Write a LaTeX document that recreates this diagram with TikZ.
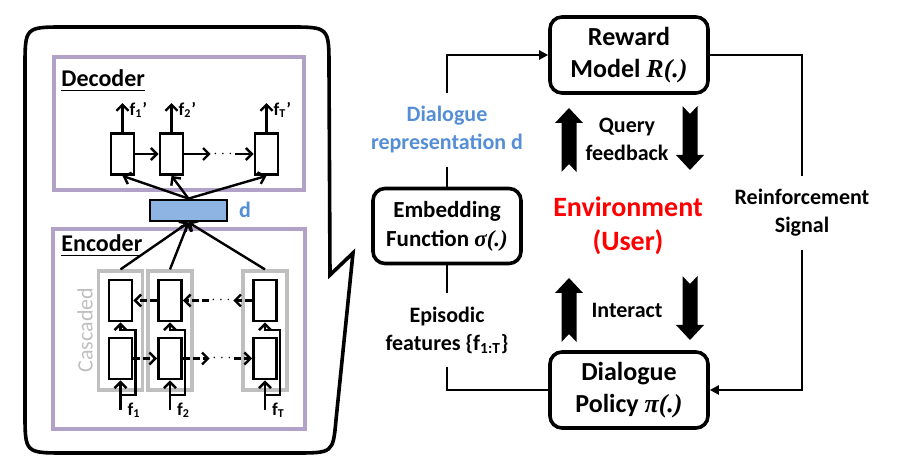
\documentclass[tikz,border=0pt]{standalone}
\usepackage{xcolor}
\usepackage{fontspec}
\setmainfont{Carlito}
\newfontfamily\tnr{Liberation Serif}
\usepackage{tikz}
\usetikzlibrary{positioning,arrows.meta}
\definecolor{lilac}{HTML}{B3A2C7}
\definecolor{cellgray}{HTML}{BFBFBF}
\definecolor{dblue}{HTML}{8EB4E3}
\definecolor{repblue}{HTML}{558ED5}
\newcommand\mfn[1]{{\tnr\itshape #1}}

\begin{document}
\begin{tikzpicture}[x=0.5pt,y=-0.5pt,
            rbox/.style={draw,line width=1.8pt,rounded corners=6pt,align=center,font=\bfseries\fontsize{13}{16}\selectfont,minimum width=79pt,minimum height=38pt},
            txt/.style={align=center,font=\bfseries\fontsize{11}{14}\selectfont,inner sep=6.5pt},
            cellbox/.style={draw,line width=1.4pt,fill=white,minimum width=11.5pt,minimum height=20.5pt,inner sep=0pt},
            colbox/.style={draw=cellgray,line width=1.6pt,minimum width=22pt,minimum height=59.5pt,inner sep=0pt},
            flbl/.style={font=\bfseries\fontsize{9}{9}\selectfont,inner sep=3pt},
            dotnode/.style={font=\fontsize{7}{7}\selectfont,inner sep=1pt},
            conn/.style={line width=1.4pt},
            arr/.style={line width=1.2pt,-{Straight Barb[length=3pt,width=6pt]}},
            darr/.style={arr,dash pattern=on 3.5pt off 1.5pt}]
            \useasboundingbox (0,0) rectangle (902,470);
            \def\bubble{(25,413) -- (25,67) .. controls (25,27) .. (65,27) -- (289,27) .. controls (329,27) .. (329,67) -- (330,275) -- (353,253) -- (336,420) .. controls (333,453) .. (295,453) -- (65,453) .. controls (25,453) .. (25,413) -- cycle}
            \def\blkarrow{(0,0) -- (14,15) -- (7.5,15) -- (7.5,64) -- (0,56) -- (-7.5,64) -- (-7.5,15) -- (-14,15) -- cycle}
            \draw[line width=1.8pt] \bubble;
            \draw[lilac,line width=1.6pt] (54,57) rectangle (304,190);
            \draw[lilac,line width=1.6pt] (53,229) rectangle (305,429);
            \node[font=\bfseries\fontsize{12}{12}\selectfont,anchor=base west,inner sep=0pt] (dec) at (61,87) {\underline{Decoder}};
            \node[font=\bfseries\fontsize{12}{12}\selectfont,anchor=base west,inner sep=0pt] (enc) at (61,252) {\underline{Encoder}};
            \node[rotate=90,text=cellgray,font=\fontsize{11}{11}\selectfont] (casc) at (85,330) {Cascaded};

            \node[cellbox] (d1) at (122.5,154) {};
            \node[cellbox] (d2) at (171.5,154) {};
            \node[cellbox] (d3) at (266.5,154) {};
            \node[dotnode] (ddots) at (223,154) {$\cdots$};
            \draw[arr] (d1) -- (d2);
            \draw[arr] (d2) -- (ddots);
            \draw[arr] (ddots) -- (d3);
            \foreach \c/\t in {d1/1,d2/2,d3/T}
                \draw[arr] (\c.north) -- ++(0,-29) node[flbl,right,pos=.75] {f\textsubscript{\t}'};

            \node[draw,line width=1.4pt,fill=dblue,minimum width=38.5pt,minimum height=10.5pt,inner sep=0pt] (d) at (188.5,210.5) {};
            \node[font=\bfseries\fontsize{11}{11}\selectfont,text=repblue] (dlbl) at (245,210) {d};
            \foreach \c in {d1,d2,d3}
                \draw[arr] (d.north) -- (\c.south);

            \foreach \n/\x/\t in {1/120.5/1,2/170/2,3/265/T} {
                \node[colbox] (c\n) at (\x,330.5) {};
                \node[cellbox] (u\n) at (\x,300.5) {};
                \node[cellbox] (l\n) at (\x,358.5) {};
                \coordinate (in\n) at (\x,410);
                \draw[arr] (in\n) node[flbl,right] {f\textsubscript{\t}} -- (l\n.south);
                \draw[arr] (in\n) ++(0,-15) -- ++(15,0) -- ++(0,-65) -- ++(-15,0) -- (u\n.south);
                \draw[arr] (c\n.north) -- (d.south);
            }
            \node[dotnode] (ldots) at (222,358.5) {$\cdots$};
            \node[dotnode] (udots) at (221,300.5) {$\cdots$};
            \draw[darr] (l1) -- (l2);
            \draw[darr] (l2) -- (ldots);
            \draw[darr] (ldots) -- (l3);
            \draw[darr] (u2) -- (u1);
            \draw[darr] (udots) -- (u2);
            \draw[darr] (u3) -- (udots);

            \node[rbox] (reward) at (629,55) {Reward\\Model \mfn{R(.)}};
            \node[rbox,minimum width=74pt,minimum height=37.5pt,font=\bfseries\fontsize{11.5}{14.5}\selectfont] (embed) at (447,226) {Embedding\\Function \mfn{σ(.)}};
            \node[rbox] (policy) at (629,390) {Dialogue\\Policy \mfn{π(.)}};
            \node[txt,text=repblue] (rep) at (447,130) {Dialogue\\representation d};
            \node[txt] (epi) at (447,330) {Episodic\\features \{f\textsubscript{1:T}\}};
            \node[txt] (query) at (627,139) {Query\\feedback};
            \node[txt] (interact) at (627,310) {Interact};
            \node[txt] (rsig) at (802,213) {Reinforcement\\Signal};
            \node[txt,text=red,font=\bfseries\fontsize{14}{17}\selectfont] (env) at (628,226) {Environment\\(User)};
            \draw[conn,-{Triangle[length=4.5pt,width=4.5pt]}] (rep.north) |- (reward.west);
            \draw[conn] (rep.south) -- (embed.north);
            \draw[conn] (embed.south) -- (epi.north);
            \draw[conn] (epi.south) |- (policy.west);
            \draw[conn] (reward.east) -| (rsig.north);
            \draw[conn,-{Triangle[length=4.5pt,width=4.5pt]}] (rsig.south) |- (policy.east);
            \fill[shift={(569,108)}] \blkarrow;
            \fill[shift={(690,170)},yscale=-1] \blkarrow;
            \fill[shift={(569,278)}] \blkarrow;
            \fill[shift={(690,340)},yscale=-1] \blkarrow;
        \end{tikzpicture}
\end{document}
